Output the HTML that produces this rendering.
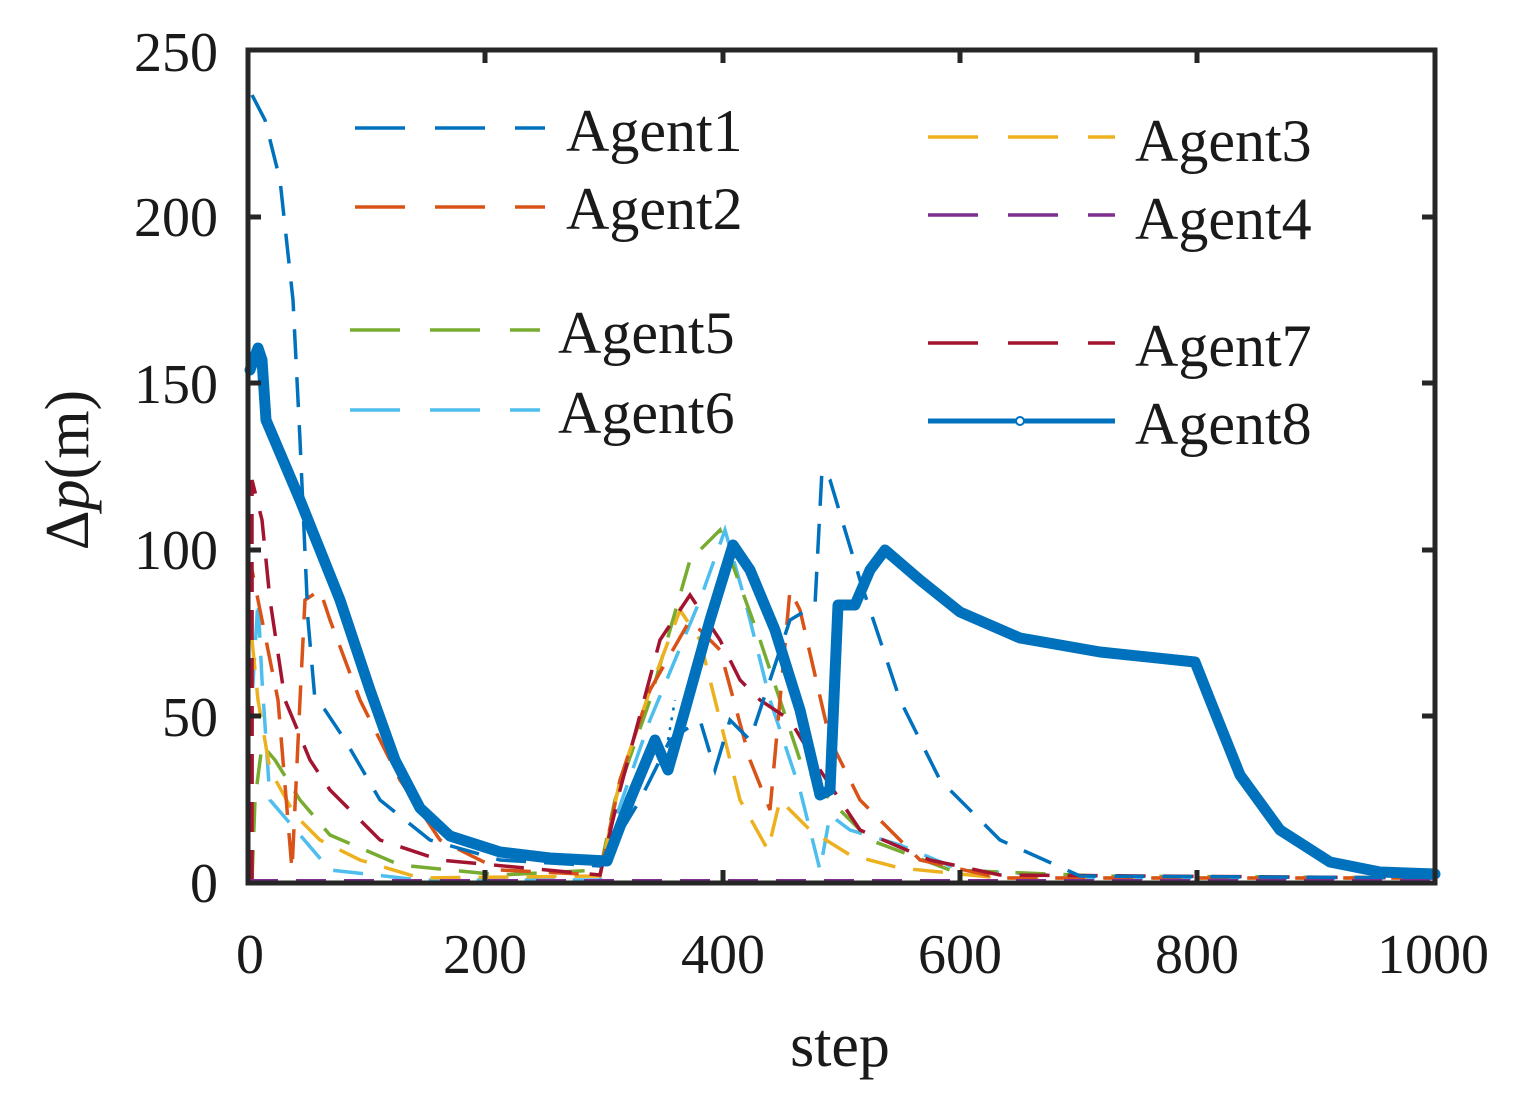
<!DOCTYPE html>
<html><head><meta charset="utf-8"><style>
html,body{margin:0;padding:0;background:#fff;}
svg{display:block;}
text{font-family:"Liberation Serif",serif;fill:#1a1a1a;}
</style></head><body>
<svg width="1514" height="1105" viewBox="0 0 1514 1105" xmlns="http://www.w3.org/2000/svg">
<rect width="1514" height="1105" fill="#fff"/>
<g fill="none" stroke-width="3.5" stroke-dasharray="30 18">
<path stroke="#4DBEEE" d="M252,880 L252,700 L258,600 L262,680 L270,800 L330,870 L420,880 L600,880 L615,820 L650,720 L700,600 L725,530 L745,600 L770,700 L800,790 L820,870 L830,815 L850,830 L900,845 L960,870 L1100,878 L1435,878"/>
<path stroke="#77AC30" d="M252,880 L255,800 L262,745 L275,760 L300,800 L330,835 L400,865 L500,875 L600,870 L615,800 L650,700 L690,560 L720,530 L760,640 L800,760 L830,800 L870,840 L950,870 L1100,876 L1435,878"/>
<path stroke="#EDB120" d="M252,880 L252,640 L258,700 L270,770 L295,815 L320,840 L360,860 L420,878 L600,876 L620,780 L650,690 L680,610 L700,640 L720,720 L740,800 L768,850 L780,800 L810,830 L850,855 L900,868 L1000,878 L1435,878"/>
<path stroke="#D95319" d="M252,880 L252,570 L262,620 L278,700 L292,870 L300,700 L305,600 L320,590 L330,620 L360,700 L400,780 L440,840 L500,870 L600,875 L620,780 L650,690 L690,620 L720,650 L750,760 L770,810 L790,590 L800,610 L830,740 L860,800 L920,860 L1000,878 L1435,878"/>
<path stroke="#A2142F" d="M252,880 L252,480 L262,520 L270,600 L285,700 L310,760 L330,790 L380,840 L440,860 L600,875 L620,790 L660,640 L690,595 L720,640 L740,680 L760,700 L790,720 L820,770 L860,830 L930,860 L1000,875 L1435,878"/>
<path stroke="#0072BD" d="M252,95 L265,120 L280,180 L293,300 L300,440 L308,620 L315,700 L325,710 L345,740 L380,800 L430,840 L500,860 L600,866 L640,800 L670,740 L700,720 L715,770 L730,720 L750,740 L790,620 L815,605 L822,470 L830,480 L860,580 L900,700 L940,780 L1000,840 L1080,876 L1435,878"/>
<path stroke="#7E2F8E" stroke-width="4" d="M248,881 L1435,881"/>
</g>
<path fill="none" stroke="#0072BD" stroke-width="11" stroke-linejoin="round" stroke-linecap="round" d="M250,370 L258,348 L262,360 L266,420 L300,500 L340,600 L370,690 L395,760 L420,808 L450,836 L500,852 L550,858 L607,861 L630,800 L655,740 L668,770 L685,710 L710,620 L733,545 L750,570 L775,630 L800,710 L820,795 L830,790 L838,605 L855,605 L870,570 L885,550 L920,580 L960,612 L1020,638 L1100,652 L1195,662 L1210,700 L1240,775 L1280,830 L1330,862 L1380,872 L1435,874"/>
<path fill="none" stroke="#0072BD" stroke-width="2.5" stroke-dasharray="3 7" d="M262,350 L262,420 M835,610 L830,790 M668,740 L675,700"/>
<rect x="248" y="50" width="1187" height="833" fill="none" stroke="#262626" stroke-width="5"/>
<g stroke="#262626" stroke-width="5">
<path d="M248,716 h13 M248,550 h13 M248,383 h13 M248,217 h13 M1435,716 h-13 M1435,550 h-13 M1435,383 h-13 M1435,217 h-13"/>
<path d="M485,883 v-13 M723,883 v-13 M960,883 v-13 M1197,883 v-13 M485,50 v13 M723,50 v13 M960,50 v13 M1197,50 v13"/>
</g>
<g font-size="56" text-anchor="end">
<text x="218" y="902">0</text><text x="218" y="736">50</text><text x="218" y="569">100</text>
<text x="218" y="403">150</text><text x="218" y="236">200</text><text x="218" y="71">250</text>
</g>
<g font-size="56" text-anchor="middle">
<text x="250" y="973">0</text><text x="485" y="973">200</text><text x="723" y="973">400</text>
<text x="960" y="973">600</text><text x="1197" y="973">800</text><text x="1433" y="973">1000</text>
</g>
<text x="840" y="1066" font-size="62" text-anchor="middle">step</text>
<text transform="translate(88,470) rotate(-90)" font-size="62" text-anchor="middle">Δ<tspan font-style="italic">p</tspan>(m)</text>
<g stroke-width="3.5" stroke-dasharray="50 30">
<path stroke="#0072BD" d="M355,128 H545"/>
<path stroke="#D95319" d="M355,207 H545"/>
<path stroke="#77AC30" d="M350,330 H540"/>
<path stroke="#4DBEEE" d="M350,410 H540"/>
<path stroke="#EDB120" d="M928,137 H1115"/>
<path stroke="#7E2F8E" d="M928,215 H1115"/>
<path stroke="#A2142F" d="M928,343 H1115"/>
</g>
<path stroke="#0072BD" stroke-width="5" d="M928,421 H1115"/>
<circle cx="1020" cy="421" r="4" fill="#fff" stroke="#0072BD" stroke-width="2"/>
<g font-size="60">
<text x="566" y="151">Agent1</text><text x="566" y="229">Agent2</text>
<text x="558" y="353">Agent5</text><text x="558" y="433">Agent6</text>
<text x="1135" y="161">Agent3</text><text x="1135" y="239">Agent4</text>
<text x="1135" y="366">Agent7</text><text x="1135" y="444">Agent8</text>
</g>
</svg>
</body></html>
